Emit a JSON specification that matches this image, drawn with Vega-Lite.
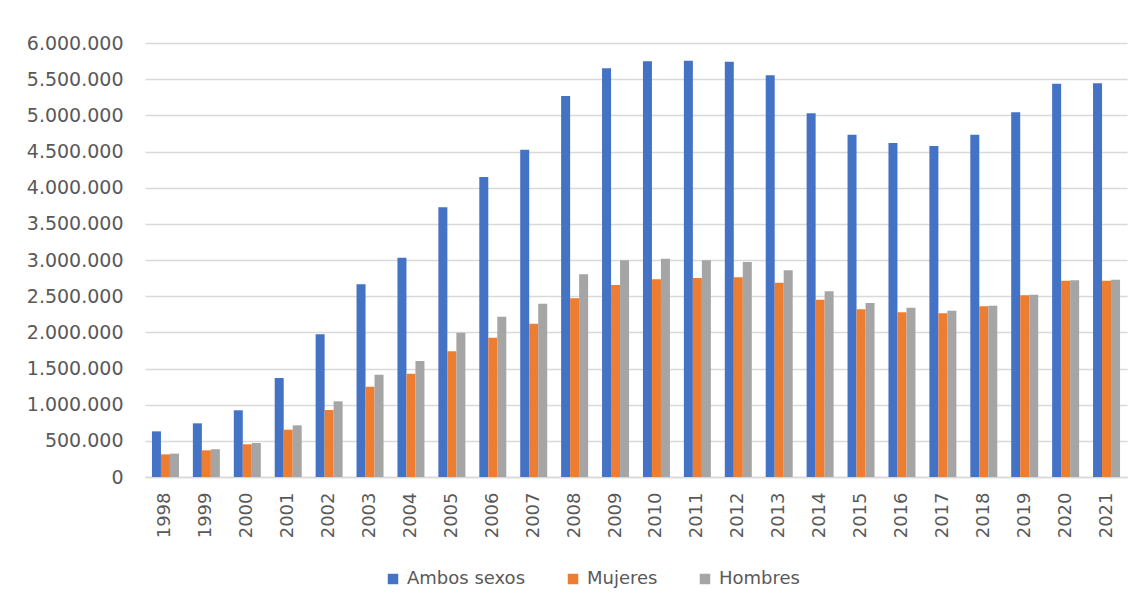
{
  "$schema": "https://vega.github.io/schema/vega-lite/v6.json",
  "width": 982,
  "height": 434,
  "autosize": "none",
  "padding": {"left": 145, "top": 43, "right": 15, "bottom": 135},
  "background": "white",
  "data": {
    "values": [
      {"anio": "1998", "serie": "Ambos sexos", "valor": 631000}, {"anio": "1998", "serie": "Mujeres", "valor": 313000}, {"anio": "1998", "serie": "Hombres", "valor": 323000},
      {"anio": "1999", "serie": "Ambos sexos", "valor": 742000}, {"anio": "1999", "serie": "Mujeres", "valor": 369000}, {"anio": "1999", "serie": "Hombres", "valor": 383000},
      {"anio": "2000", "serie": "Ambos sexos", "valor": 922000}, {"anio": "2000", "serie": "Mujeres", "valor": 452000}, {"anio": "2000", "serie": "Hombres", "valor": 470000},
      {"anio": "2001", "serie": "Ambos sexos", "valor": 1369000}, {"anio": "2001", "serie": "Mujeres", "valor": 654000}, {"anio": "2001", "serie": "Hombres", "valor": 714000},
      {"anio": "2002", "serie": "Ambos sexos", "valor": 1972000}, {"anio": "2002", "serie": "Mujeres", "valor": 926000}, {"anio": "2002", "serie": "Hombres", "valor": 1046000},
      {"anio": "2003", "serie": "Ambos sexos", "valor": 2664000}, {"anio": "2003", "serie": "Mujeres", "valor": 1249000}, {"anio": "2003", "serie": "Hombres", "valor": 1415000},
      {"anio": "2004", "serie": "Ambos sexos", "valor": 3032000}, {"anio": "2004", "serie": "Mujeres", "valor": 1429000}, {"anio": "2004", "serie": "Hombres", "valor": 1604000},
      {"anio": "2005", "serie": "Ambos sexos", "valor": 3728000}, {"anio": "2005", "serie": "Mujeres", "valor": 1737000}, {"anio": "2005", "serie": "Hombres", "valor": 1995000},
      {"anio": "2006", "serie": "Ambos sexos", "valor": 4148000}, {"anio": "2006", "serie": "Mujeres", "valor": 1926000}, {"anio": "2006", "serie": "Hombres", "valor": 2217000},
      {"anio": "2007", "serie": "Ambos sexos", "valor": 4525000}, {"anio": "2007", "serie": "Mujeres", "valor": 2120000}, {"anio": "2007", "serie": "Hombres", "valor": 2396000},
      {"anio": "2008", "serie": "Ambos sexos", "valor": 5267000}, {"anio": "2008", "serie": "Mujeres", "valor": 2470000}, {"anio": "2008", "serie": "Hombres", "valor": 2802000},
      {"anio": "2009", "serie": "Ambos sexos", "valor": 5650000}, {"anio": "2009", "serie": "Mujeres", "valor": 2654000}, {"anio": "2009", "serie": "Hombres", "valor": 2995000},
      {"anio": "2010", "serie": "Ambos sexos", "valor": 5747000}, {"anio": "2010", "serie": "Mujeres", "valor": 2733000}, {"anio": "2010", "serie": "Hombres", "valor": 3018000},
      {"anio": "2011", "serie": "Ambos sexos", "valor": 5756000}, {"anio": "2011", "serie": "Mujeres", "valor": 2751000}, {"anio": "2011", "serie": "Hombres", "valor": 2995000},
      {"anio": "2012", "serie": "Ambos sexos", "valor": 5742000}, {"anio": "2012", "serie": "Mujeres", "valor": 2761000}, {"anio": "2012", "serie": "Hombres", "valor": 2972000},
      {"anio": "2013", "serie": "Ambos sexos", "valor": 5553000}, {"anio": "2013", "serie": "Mujeres", "valor": 2687000}, {"anio": "2013", "serie": "Hombres", "valor": 2857000},
      {"anio": "2014", "serie": "Ambos sexos", "valor": 5028000}, {"anio": "2014", "serie": "Mujeres", "valor": 2452000}, {"anio": "2014", "serie": "Hombres", "valor": 2567000},
      {"anio": "2015", "serie": "Ambos sexos", "valor": 4733000}, {"anio": "2015", "serie": "Mujeres", "valor": 2318000}, {"anio": "2015", "serie": "Hombres", "valor": 2406000},
      {"anio": "2016", "serie": "Ambos sexos", "valor": 4618000}, {"anio": "2016", "serie": "Mujeres", "valor": 2277000}, {"anio": "2016", "serie": "Hombres", "valor": 2341000},
      {"anio": "2017", "serie": "Ambos sexos", "valor": 4576000}, {"anio": "2017", "serie": "Mujeres", "valor": 2263000}, {"anio": "2017", "serie": "Hombres", "valor": 2300000},
      {"anio": "2018", "serie": "Ambos sexos", "valor": 4733000}, {"anio": "2018", "serie": "Mujeres", "valor": 2360000}, {"anio": "2018", "serie": "Hombres", "valor": 2369000},
      {"anio": "2019", "serie": "Ambos sexos", "valor": 5042000}, {"anio": "2019", "serie": "Mujeres", "valor": 2512000}, {"anio": "2019", "serie": "Hombres", "valor": 2521000},
      {"anio": "2020", "serie": "Ambos sexos", "valor": 5438000}, {"anio": "2020", "serie": "Mujeres", "valor": 2714000}, {"anio": "2020", "serie": "Hombres", "valor": 2719000},
      {"anio": "2021", "serie": "Ambos sexos", "valor": 5443000}, {"anio": "2021", "serie": "Mujeres", "valor": 2714000}, {"anio": "2021", "serie": "Hombres", "valor": 2728000}
    ]
  },
  "mark": {"type": "bar"},
  "encoding": {
    "x": {
      "field": "anio",
      "type": "nominal",
      "sort": null,
      "scale": {"paddingInner": 0.34, "paddingOuter": 0.17},
      "axis": {
        "title": null,
        "labelAngle": -90,
        "labelAlign": "right",
        "labelBaseline": "middle",
        "labelPadding": 15,
        "ticks": false,
        "domain": true,
        "domainColor": "#d9d9d9",
        "domainWidth": 1.5,
        "labelFont": "DejaVu Sans",
        "labelFontSize": 18,
        "labelColor": "#595959",
        "grid": false
      }
    },
    "xOffset": {
      "field": "serie",
      "type": "nominal",
      "sort": ["Ambos sexos", "Mujeres", "Hombres"],
      "scale": {"paddingInner": 0, "paddingOuter": 0}
    },
    "y": {
      "field": "valor",
      "type": "quantitative",
      "scale": {"domain": [0, 6000000], "nice": false},
      "axis": {
        "title": null,
        "values": [0, 500000, 1000000, 1500000, 2000000, 2500000, 3000000, 3500000, 4000000, 4500000, 5000000, 5500000, 6000000],
        "labelExpr": "replace(format(datum.value, ','), regexp(',', 'g'), '.')",
        "labelFont": "DejaVu Sans",
        "labelFontSize": 19,
        "labelColor": "#595959",
        "labelPadding": 22,
        "ticks": false,
        "domain": false,
        "grid": true,
        "gridColor": "#d9d9d9",
        "gridWidth": 1.3
      }
    },
    "color": {
      "field": "serie",
      "type": "nominal",
      "sort": ["Ambos sexos", "Mujeres", "Hombres"],
      "scale": {"domain": ["Ambos sexos", "Mujeres", "Hombres"], "range": ["#4472C4", "#ED7D31", "#A5A5A5"]},
      "legend": {
        "title": null,
        "orient": "none",
        "direction": "horizontal",
        "legendX": 239,
        "legendY": 527,
        "symbolType": "square",
        "symbolSize": 110,
        "symbolStrokeWidth": 0,
        "labelFont": "DejaVu Sans",
        "labelFontSize": 18,
        "labelColor": "#595959",
        "labelOffset": 5,
        "columnPadding": 38
      }
    }
  },
  "config": {
    "view": {"stroke": null}
  }
}
